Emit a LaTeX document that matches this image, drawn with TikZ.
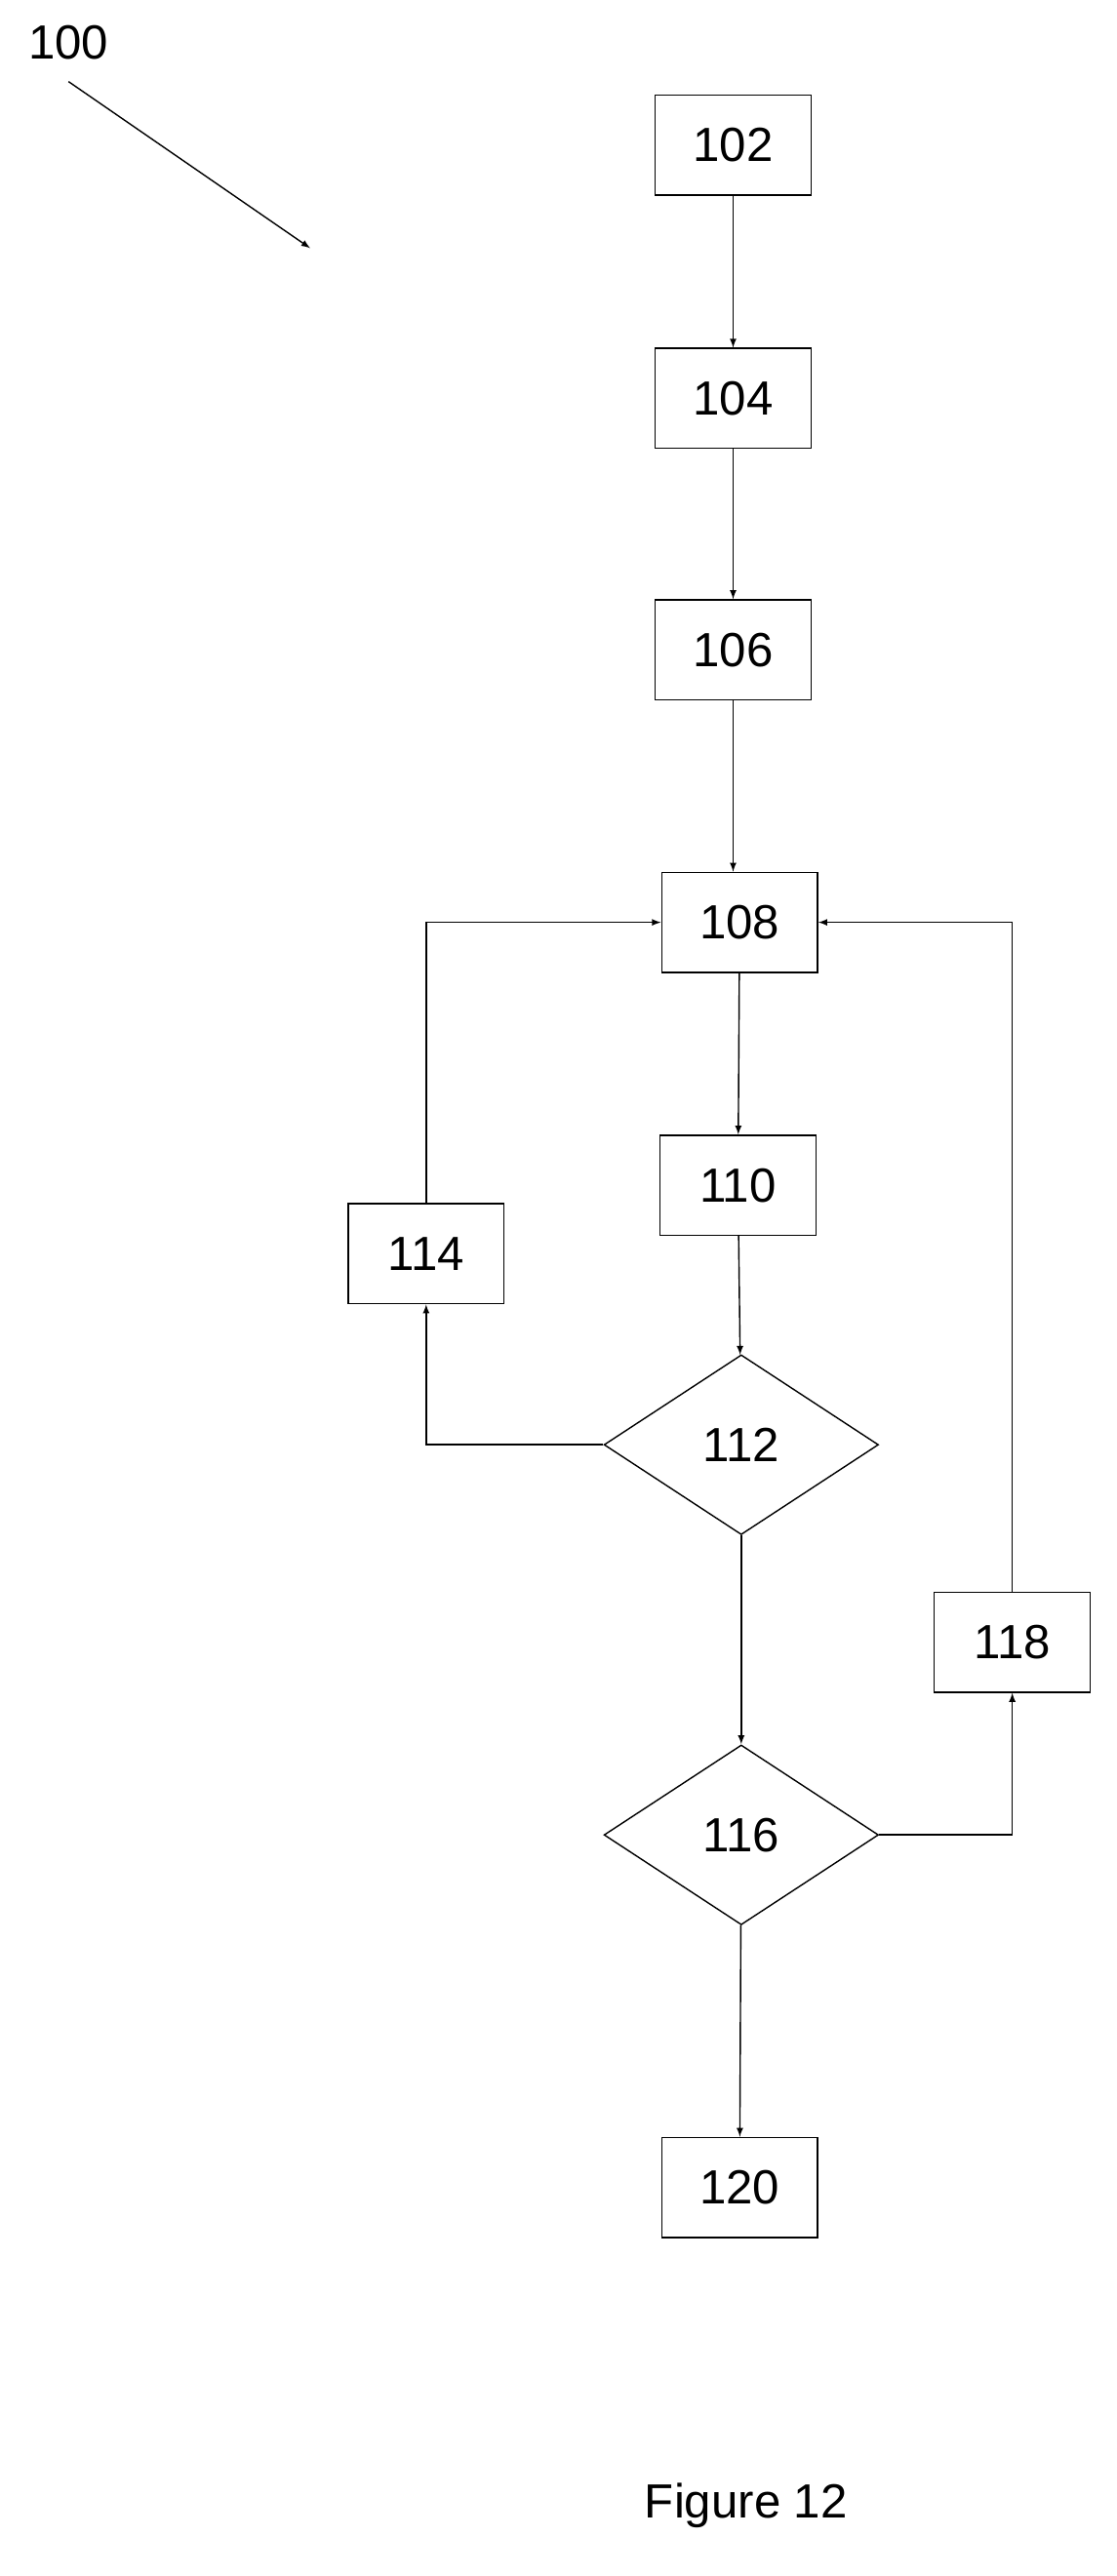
\documentclass[tikz,border=0pt]{standalone}
\usepackage{fontspec}
\setmainfont{Liberation Sans}
\usetikzlibrary{shapes.geometric}
\tikzset{>=latex}
\tikzstyle{box}=[draw,line width=0.8pt,minimum width=3.2cm,minimum height=2.05cm,inner sep=0pt,font=\fontsize{28}{30}\selectfont]
\tikzstyle{decision}=[draw,line width=0.8pt,diamond,aspect=1.53,minimum width=5.63cm,minimum height=3.69cm,inner sep=0pt,font=\fontsize{28}{30}\selectfont]
\tikzstyle{link}=[->,line width=0.8pt]

\begin{document}
\begin{tikzpicture}[x=0.0335cm,y=-0.0335cm]
  \useasboundingbox (0,0) rectangle (684,1578);
  \node (b102) [box] at (449,89) {102};
  \node (b104) [box] at (449,244) {104};
  \node (b106) [box] at (449,398) {106};
  \node (b108) [box] at (453,565) {108};
  \node (b110) [box] at (452,726) {110};
  \node (b114) [box] at (261,768) {114};
  \node (d112) [decision] at (454,885) {112};
  \node (b118) [box] at (620,1006) {118};
  \node (d116) [decision] at (454,1124) {116};
  \node (b120) [box] at (453,1340) {120};

  % main flow
  \draw[link] (b102) -- (b104);
  \draw[link] (b104) -- (b106);
  \draw[link] (b106) -- (b108.north -| b106);
  \draw[link] (b108) -- (b110);
  \draw[link] (b110) -- (d112);
  \draw[link] (d112) -- (d116);
  \draw[link] (d116) -- (b120);

  % loops back
  \draw[link] (d112.west) -| (b114.south);
  \draw[link] (b114.north) |- (b108.west);
  \draw[link] (d116.east) -| (b118.south);
  \draw[link] (b118.north) |- (b108.east);

  \node (ref) [font=\fontsize{28}{30}\selectfont] at (42,26) {100};
  \coordinate (refend) at (190,152);
  \draw[link] (42,50) -- (refend);
  \node (cap) [font=\fontsize{28}{30}\selectfont] at (457,1535) {Figure 12};
\end{tikzpicture}
\end{document}
